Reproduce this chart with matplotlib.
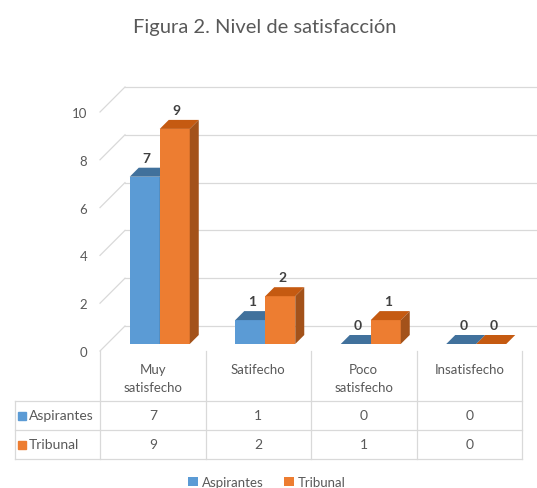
import matplotlib.pyplot as plt
from matplotlib.patches import Polygon, Patch
from matplotlib.transforms import offset_copy

# data
categories = ['Muy\nsatisfecho', 'Satifecho', 'Poco\nsatisfecho', 'Insatisfecho']
aspirantes = [7, 1, 0, 0]
tribunal = [9, 2, 1, 0]
series_names = ['Aspirantes', 'Tribunal']
yticks = [0, 2, 4, 6, 8, 10]

W, H, DPI = 537, 489, 100
FONT = 'Lato'
GRAY = '#595959'
LINE = '#D9D9D9'
front_colors = ['#5B9BD5', '#ED7D31']
top_colors = ['#41719C', '#C55A11']
side_colors = ['#3B6891', '#A3521A']

plt.rcParams['font.family'] = [FONT, 'DejaVu Sans']

fig = plt.figure(figsize=(W / DPI, H / DPI), dpi=DPI)

# front plane of the 3D box: x 100..522 px, y(0)=352 px, y(10)=113 px
ax = fig.add_axes([100 / W, 1 - 352 / H, 422 / W, 239 / H])
ax.set_xlim(-0.5, 3.5)
ax.set_ylim(0, 10)
for s in ax.spines.values():
    s.set_visible(False)
ax.set_xticks([])
ax.set_yticks(yticks)
ax.set_yticklabels([str(t) for t in yticks], color=GRAY, fontsize=9.5)
ax.tick_params(axis='y', length=0, pad=9)

px_x = 422 / 4.0
px_y = 239 / 10.0

# back wall gridlines and side diagonals (depth 25 px)
wall = 25
wdx, wdy = wall / px_x, wall / px_y
for t in yticks:
    ax.plot([-0.5 + wdx, 3.5 + wdx], [t + wdy, t + wdy], color=LINE, lw=0.9,
            clip_on=False, zorder=0)
    ax.plot([-0.5, -0.5 + wdx], [t, t + wdy], color=LINE, lw=0.9,
            clip_on=False, zorder=0)

# bars sit 7 px behind the front plane, 9 px deep
bar_tr = offset_copy(ax.transData, fig=fig, x=7, y=7, units='dots')
depth = 9
ddx, ddy = depth / px_x, depth / px_y
bw = 30 / px_x

for k, vals in enumerate([aspirantes, tribunal]):
    xs = [i + (k - 0.5) * bw for i in range(len(categories))]
    z = 2 + k
    ax.bar(xs, vals, width=bw, color=front_colors[k], transform=bar_tr,
           clip_on=False, zorder=z, linewidth=0)
    for x, v in zip(xs, vals):
        x0, x1 = x - bw / 2, x + bw / 2
        top = Polygon([(x0, v), (x1, v), (x1 + ddx, v + ddy), (x0 + ddx, v + ddy)],
                      closed=True, facecolor=top_colors[k], edgecolor='none',
                      transform=bar_tr, clip_on=False, zorder=z)
        side = Polygon([(x1, 0), (x1 + ddx, ddy), (x1 + ddx, v + ddy), (x1, v)],
                       closed=True, facecolor=side_colors[k], edgecolor='none',
                       transform=bar_tr, clip_on=False, zorder=z)
        ax.add_patch(top)
        ax.add_patch(side)
        lab_tr = offset_copy(ax.transData, fig=fig, x=7 + 2, y=7 + depth + 4,
                             units='dots')
        ax.text(x, v, str(v), transform=lab_tr, ha='center', va='bottom',
                fontsize=10, fontweight='bold', color='#404040', zorder=5)

# data table under the chart (rows in pixel units)
tab = fig.add_axes([100 / W, 1 - 460 / H, 422 / W, 108 / H])
tab.set_xlim(-0.5, 3.5)
tab.set_ylim(460, 352)
tab.axis('off')
x_left = -0.5 - 85 / px_x
row_edges = [402, 431, 460]
for i in range(len(categories) + 1):
    tab.plot([i - 0.5, i - 0.5], [352, 460], color=LINE, lw=0.9, clip_on=False)
tab.plot([x_left, x_left], [402, 460], color=LINE, lw=0.9, clip_on=False)
for y in row_edges:
    tab.plot([x_left, 3.5], [y, y], color=LINE, lw=0.9, clip_on=False)

for i, c in enumerate(categories):
    tab.text(i, 364, c, ha='center', va='top', fontsize=9.5, color=GRAY,
             linespacing=1.6)

for r, (name, vals) in enumerate(zip(series_names, [aspirantes, tribunal])):
    yc = (row_edges[r] + row_edges[r + 1]) / 2
    tab.plot([x_left + 7 / px_x], [yc], marker='s', markersize=6,
             color=front_colors[r], clip_on=False, linestyle='none')
    tab.text(x_left + 14 / px_x, yc, name, ha='left', va='center',
             fontsize=10, color=GRAY)
    for i, v in enumerate(vals):
        tab.text(i, yc, str(v), ha='center', va='center', fontsize=10,
                 color=GRAY)

fig.text(265 / W, 1 - 28 / H, 'Figura 2. Nivel de satisfacción', ha='center',
         va='center', fontsize=14.5, color=GRAY)

handles = [Patch(facecolor=c, edgecolor='none') for c in front_colors]
fig.legend(handles, series_names, loc='center', bbox_to_anchor=(267 / W, 1 - 483 / H),
           ncol=2, frameon=False, handlelength=0.7, handleheight=0.7,
           handletextpad=0.3, columnspacing=1.6, fontsize=9.5, labelcolor=GRAY)

fig.savefig('out.png', dpi=DPI)
